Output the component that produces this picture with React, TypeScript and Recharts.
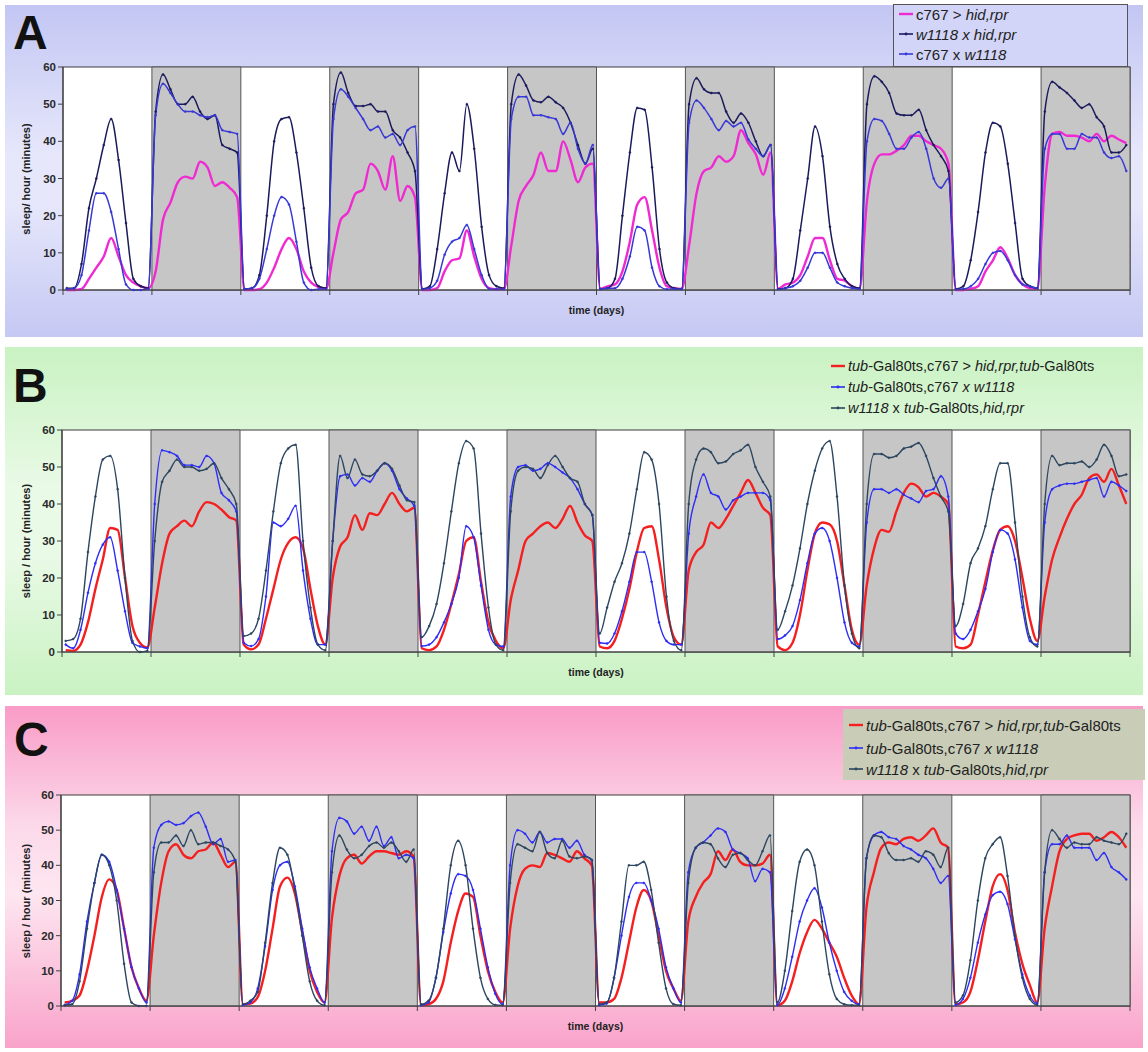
import React from 'react';
import { LineChart, Line, XAxis, YAxis, ReferenceArea } from 'recharts';

const FONT = '"Liberation Sans", Arial, Helvetica, sans-serif';

// 6 days, each split into a 12 h light phase and a 12 h dark phase
const phaseTicks = [0, 12, 24, 36, 48, 60, 72, 84, 96, 108, 120, 132, 144];
const darkPhases = [[12, 24], [36, 48], [60, 72], [84, 96], [108, 120], [132, 144]];
const sleepTicks = [0, 10, 20, 30, 40, 50, 60];

// ---- A: sleep per hour, one row of 12 hourly values per phase ----
const aC767HidRpr = [
  [0, 0, 0.3, 3, 6, 9, 14, 9, 4, 2, 1, 0.5],
  [5, 19, 23.5, 29, 30.5, 30, 34.5, 33, 28, 29, 27.5, 25],
  [0, 0, 0.2, 2, 6, 11, 14, 11, 5, 2, 0.8, 0.4],
  [10, 19, 21, 26, 27, 34, 32, 27, 36, 24, 28, 25],
  [0, 0, 0.5, 5, 8, 8.5, 16, 9, 3, 0.5, 0.2, 0.2],
  [12, 24, 28, 31, 37, 32, 32, 40, 35, 29, 33, 34],
  [0.3, 1, 1.5, 5, 13, 23, 25, 16, 6, 1, 0.5, 0.3],
  [12, 26, 32, 33, 36, 34.5, 36, 43, 39.5, 36.5, 31, 37],
  [0.3, 1.5, 2, 4, 9, 14, 14, 8, 3, 2.5, 1, 0.3],
  [24, 34, 36.5, 36.5, 37.5, 39, 41.5, 41.5, 40, 39, 38, 34],
  [0, 0, 0.3, 1, 5, 8, 11.5, 8.5, 4, 1.5, 0.5, 0.3],
  [28, 42, 42.5, 41.5, 41.5, 41, 40, 42, 40, 41.5, 40.5, 39.5],
];
const aW1118HidRpr = [
  [0.5, 0.5, 7, 22, 30, 39, 46, 35, 18, 3, 1, 0.5],
  [48, 58, 54, 50, 50, 52, 48, 46, 47, 39, 38, 37],
  [0.3, 0.5, 4, 20, 40, 46, 46.5, 37, 22, 6, 1, 0.5],
  [50, 58.5, 53, 49.5, 49.5, 50, 48, 48, 43, 41, 37, 32],
  [0.3, 1, 11, 26, 37, 32, 50, 38, 17, 4, 1, 0.5],
  [50, 58, 55, 51, 50.5, 52, 50.5, 49, 45, 39, 34, 38],
  [0.3, 0.5, 3, 20, 37, 49, 48.5, 33, 11, 2, 0.5, 0.3],
  [50, 57, 54, 53, 53, 48, 45, 47.5, 45, 40, 36, 39],
  [0.3, 0.5, 3, 16, 30, 44, 36, 17, 7, 3, 1, 0.5],
  [50, 57.5, 56, 53, 47.5, 47, 47, 48.5, 43, 39, 36, 32],
  [0.3, 1, 8, 21, 37, 45, 44, 34, 18, 3, 1, 0.5],
  [48, 56, 54.5, 53, 51, 49, 50, 46.5, 44, 37, 37, 39],
];
const aC767W1118 = [
  [0.3, 0.5, 4, 16, 26, 26, 21, 11, 1.5, 0, 0, 0.3],
  [47, 55.5, 53, 50, 48, 48, 47, 46.5, 47, 43, 42.5, 42],
  [0.3, 0.5, 3, 11, 20, 25, 23, 13, 2, 0, 0.2, 0.3],
  [46, 54, 52, 49, 46, 43, 44, 41, 42, 39, 43, 44],
  [0.2, 0.5, 2.5, 9.5, 13, 14, 17.5, 11, 4, 0.3, 0.2, 0.3],
  [46, 52, 52, 47, 47, 46.5, 46, 42, 45, 38, 34, 39],
  [0.3, 0.5, 0.5, 3, 9, 17, 16, 6, 1, 0.2, 0.3, 0.3],
  [45, 51, 49, 46, 43, 45.5, 44, 45, 40.5, 38, 36, 39],
  [0.2, 0.5, 1, 2.5, 6, 10, 10, 6, 2, 1, 0.5, 0.3],
  [40, 46, 45.5, 42, 38, 38, 41, 42.5, 38, 30, 27.5, 30],
  [0.2, 0.3, 1, 3, 7, 10, 10.5, 8, 4, 1.5, 1, 0.5],
  [38, 42, 42, 38, 38, 42, 41, 41, 37, 35.5, 36, 32],
];

// ---- B ----
const bTubHidRpr = [
  [0.5, 0.3, 2, 8, 17, 25, 33.5, 33, 20, 7, 2.5, 1.2],
  [12, 24, 32, 34, 35.5, 34, 38, 40.5, 40, 38.5, 36.5, 35.5],
  [2, 0.7, 2, 9, 17, 25, 29.5, 31, 28, 17, 7, 2],
  [20, 28.5, 31, 37, 33, 37.5, 37, 40, 43, 40, 38, 39],
  [1, 0.5, 1.5, 6, 13, 21, 30, 31, 19, 8, 3, 1],
  [14, 22, 30, 32, 34, 35, 33.5, 36, 39.5, 35, 31.5, 30],
  [1.5, 1, 3, 9, 17, 27, 33.5, 34, 25, 12, 4, 2],
  [22, 27, 29, 35, 33.5, 36, 39.5, 43, 46.5, 43, 39, 37],
  [1.5, 0.5, 2.5, 10, 22, 32, 35, 34.5, 30, 18, 6, 2],
  [18, 28, 33, 32.5, 38, 43, 45.5, 44.5, 42, 43, 42, 40],
  [1.5, 1, 2, 10, 19, 27.5, 33, 34, 30, 20, 9, 3],
  [15, 25, 31, 36, 40, 42.5, 47, 48, 46, 49.5, 45, 40],
];
const bTubC767W1118 = [
  [2, 1, 6, 16, 24, 29, 31, 22, 11, 2.5, 1.5, 1],
  [40, 54.5, 54, 53, 50.5, 50.5, 50, 53, 51, 43, 41, 38],
  [2.5, 1.6, 3.5, 15, 35, 34, 36, 39.5, 22, 9, 2, 2],
  [30, 47.5, 48, 45, 47, 46, 49, 51, 49, 44, 41.5, 39.5],
  [1.6, 2, 4, 8, 13, 20, 34, 31, 18, 6, 2, 1.5],
  [42, 50, 50.5, 49, 49.5, 51, 50, 48.5, 47, 44, 40, 37],
  [2.5, 2.3, 5, 11, 19, 27, 27, 19, 8, 3, 2, 2],
  [32, 42, 48, 43, 42, 38.5, 41, 42, 43, 43, 43, 41],
  [3.5, 4.5, 7, 14, 24, 32, 33.5, 30, 20, 8, 2.5, 1.5],
  [35, 44, 44, 43, 44, 42.5, 41.5, 40.5, 43.5, 44, 47.5, 42],
  [5, 3.5, 6, 11, 17, 27, 33, 32, 25, 12, 3, 2],
  [35, 44, 45, 45.5, 45.5, 46, 46.5, 47, 42, 46, 45, 43.5],
];
const bW1118TubHidRpr = [
  [3, 3.5, 9, 27, 42, 52, 53, 44, 20, 3, 0, 0.3],
  [30, 46, 49, 52, 50, 50, 49, 49.5, 51, 47, 44, 40],
  [4.3, 5, 9, 22, 38, 51, 55, 56, 30, 12, 2, 0.5],
  [30, 53, 47, 52, 48, 47.5, 49, 51, 49.5, 45, 41, 40.5],
  [4, 7, 13, 24, 38, 51, 57, 55, 32, 12, 2, 0.5],
  [38, 49, 50, 49.5, 47, 50.5, 53, 50, 47, 46, 40, 37],
  [5, 12, 19, 24, 32, 44, 54, 52, 40, 15, 3, 0.5],
  [40, 52, 55, 54, 51, 51.5, 53.5, 54.5, 56, 50, 46, 42],
  [6, 11, 18, 28, 40, 49, 55, 57, 42, 18, 5, 1],
  [40, 53.5, 53.5, 52.5, 53, 55, 55.5, 56.5, 53, 47, 42, 38],
  [7, 13, 24, 28, 34, 44, 51, 51, 35, 15, 4, 1.5],
  [40, 53, 50.5, 51, 51, 51.5, 50, 52, 56, 53, 47.5, 48],
];

// ---- C ----
const cTubHidRpr = [
  [1, 1.5, 3, 10, 20, 31, 36, 33, 22, 11, 5, 1.5],
  [20, 35, 44, 46, 43, 42, 44, 44.5, 46.5, 43, 39.5, 41],
  [0.5, 0.7, 2.5, 10, 22, 34, 36.5, 32, 21, 10, 4, 1],
  [25, 37, 42, 43, 40.5, 42.5, 44, 44, 43.5, 43, 44, 42.5],
  [0.2, 0.5, 2, 7, 18, 27, 32, 31, 20, 10, 4, 1],
  [22, 34, 39, 40, 39.5, 43.5, 43, 42, 41, 44, 42, 40],
  [1, 1, 2, 8, 18, 28, 33, 30, 20, 10, 5, 1.5],
  [24, 31, 35, 37.5, 44, 41.5, 44.5, 41, 40, 40, 40.5, 43],
  [0.2, 1.5, 7, 15, 21, 24.5, 22, 18, 14, 8, 3, 0.5],
  [28, 38, 45, 46.5, 46, 47.5, 48, 47, 48.5, 50.5, 46.5, 45],
  [0.5, 1, 4, 13, 24, 34, 37.5, 33, 21, 12, 6, 1],
  [22, 34, 44, 47.5, 48.5, 49, 49, 47, 48, 49.5, 48, 45],
];
const cTubC767W1118 = [
  [0.3, 1.5, 9, 24, 35, 43, 41, 33, 22, 11, 5, 1],
  [45, 51.5, 52.5, 51.5, 52, 54, 55, 51, 46, 47.5, 41, 41.5],
  [0.3, 1, 5, 17, 33, 40, 41, 34, 22, 11, 5, 1],
  [44, 53.5, 52.5, 49, 51, 47, 51, 45.5, 48, 42, 43, 42],
  [0.2, 1, 8, 21, 32, 37.5, 37, 33, 22, 11, 3.5, 0.5],
  [40, 50, 49, 46.5, 49.5, 46.5, 47.5, 47.5, 45, 47, 43, 41.5],
  [0.3, 0.7, 8, 20, 31, 35, 35, 30, 22, 11, 5, 1],
  [38, 45, 46.5, 48.5, 50.5, 49.5, 44.5, 43.5, 42, 35.5, 39, 38],
  [0.3, 5, 14, 24, 30, 33.5, 28, 18, 10, 4, 1.5, 0.5],
  [42, 48.5, 49.5, 48, 47.5, 45.5, 44.5, 43, 42, 39, 35, 37],
  [0.3, 2, 8, 18, 26, 31.5, 32.5, 29, 19, 9, 3, 0.7],
  [38, 46, 46, 48.5, 45, 45, 45, 41.5, 43.5, 39.5, 38, 36],
];
const cW1118TubHidRpr = [
  [0.2, 0.5, 7, 22, 35, 43, 40, 30, 12, 1, 0, 0],
  [38, 46.5, 46.5, 48.5, 45.5, 50, 46, 46.5, 46.5, 45.5, 44.5, 41],
  [0.5, 1.5, 4, 18, 35, 45, 43, 33, 20, 7, 1.5, 0.2],
  [38, 48.5, 44.5, 42, 43, 45.5, 46.5, 45, 46.5, 44, 41, 44.5],
  [0.5, 1.5, 8, 22, 40, 47, 40, 22, 8, 2, 0.3, 0.2],
  [35, 46, 45, 44, 49.5, 43.5, 42, 47, 42.5, 42, 42.5, 41.5],
  [0.5, 1, 8, 24, 40, 40, 41, 33, 18, 5, 0.5, 0.2],
  [35, 45, 46.5, 46, 42, 39.5, 43, 43.5, 41.5, 40, 44, 48.5],
  [1, 10, 27, 41, 44.5, 40, 24, 9, 2, 0.5, 0.2, 0.2],
  [42, 48.5, 48, 43.5, 41.5, 41.5, 42, 41, 44, 43, 39.5, 45],
  [1, 3, 13, 30, 42, 46, 48, 37, 20, 8, 2, 0.3],
  [38, 50, 47.5, 45, 46.5, 46, 46, 48, 47, 46.5, 46, 49],
];

type Part = [string, boolean];
type SeriesDef = { key: string; values: number[][]; color: string; width: number; dots: boolean; label: Part[] };

// flatten the per-phase rows into one row per hour (value sits mid-hour)
function buildRows(series: SeriesDef[]) {
  const rows: Record<string, number>[] = [];
  series[0].values.forEach((phase, p) => {
    phase.forEach((_, h) => {
      const row: Record<string, number> = { t: p * 12 + h + 0.5 };
      series.forEach((s) => { row[s.key] = s.values[p][h]; });
      rows.push(row);
    });
  });
  return rows;
}

const MAGENTA = '#f02ad2';
const NAVY = '#1b1b5c';
const BLUE_A = '#3838d6';
const RED = '#f51f1f';
const BLUE = '#2d2df5';
const SLATE = '#2c4660';

const seriesA: SeriesDef[] = [
  { key: 'c767HidRpr', values: aC767HidRpr, color: MAGENTA, width: 2.4, dots: false, label: [['c767 > ', false], ['hid,rpr', true]] },
  { key: 'w1118HidRpr', values: aW1118HidRpr, color: NAVY, width: 1.5, dots: true, label: [['w1118 x hid,rpr', true]] },
  { key: 'c767W1118', values: aC767W1118, color: BLUE_A, width: 1.5, dots: true, label: [['c767 x ', false], ['w1118', true]] },
];

const tubLabels: Part[][] = [
  [['tub', true], ['-Gal80ts,c767 > ', false], ['hid,rpr,tub', true], ['-Gal80ts', false]],
  [['tub', true], ['-Gal80ts,c767 ', false], ['x w1118', true]],
  [['w1118', true], [' x ', false], ['tub', true], ['-Gal80ts,', false], ['hid,rpr', true]],
];

const seriesB: SeriesDef[] = [
  { key: 'tubHidRpr', values: bTubHidRpr, color: RED, width: 2.4, dots: false, label: tubLabels[0] },
  { key: 'tubC767W1118', values: bTubC767W1118, color: BLUE, width: 1.4, dots: true, label: tubLabels[1] },
  { key: 'w1118TubHidRpr', values: bW1118TubHidRpr, color: SLATE, width: 1.4, dots: true, label: tubLabels[2] },
];

const seriesC: SeriesDef[] = [
  { key: 'tubHidRpr', values: cTubHidRpr, color: RED, width: 2.4, dots: false, label: tubLabels[0] },
  { key: 'tubC767W1118', values: cTubC767W1118, color: BLUE, width: 1.4, dots: true, label: tubLabels[1] },
  { key: 'w1118TubHidRpr', values: cW1118TubHidRpr, color: SLATE, width: 1.4, dots: true, label: tubLabels[2] },
];

type Box = { x: number; y: number; w: number; h: number };
type Plot = { x0: number; x1: number; y0: number; y1: number };
type LegendCfg = { x: number; y: number; w: number; h: number; bg?: string; border?: string; rowY: number[]; markX: number; fontSize: number };

function LegendMark({ s }: { s: SeriesDef }) {
  return (
    <svg width={14} height={8} style={{ display: 'block', flex: 'none' }}>
      <line x1={0} y1={4} x2={14} y2={4} stroke={s.color} strokeWidth={s.dots ? 1.6 : 2.4} />
      {s.dots && <circle cx={7} cy={4} r={1.4} fill={s.color} />}
    </svg>
  );
}

function Legend({ cfg, series }: { cfg: LegendCfg; series: SeriesDef[] }) {
  return (
    <>
      {(cfg.bg || cfg.border) && (
        <div style={{ position: 'absolute', left: cfg.x, top: cfg.y, width: cfg.w, height: cfg.h, background: cfg.bg, border: cfg.border, boxSizing: 'border-box' }} />
      )}
      {series.map((s, i) => (
        <div key={s.key} style={{ position: 'absolute', left: cfg.markX, top: cfg.rowY[i] - 10, height: 20, display: 'flex', alignItems: 'center', gap: 3, whiteSpace: 'nowrap', fontFamily: FONT, fontSize: cfg.fontSize, color: '#222' }}>
          <LegendMark s={s} />
          <span>
            {s.label.map(([txt, it], j) => (
              <span key={j} style={{ fontStyle: it ? 'italic' : 'normal' }}>{txt}</span>
            ))}
          </span>
        </div>
      ))}
    </>
  );
}

function Panel({ letter, box, plot, bg, series, yTitle, legend, letterPos }: {
  letter: string; box: Box; plot: Plot; bg: string; series: SeriesDef[]; yTitle: string; legend: LegendCfg; letterPos: [number, number];
}) {
  const rows = buildRows(series);
  const xAxisH = 20;
  const yAxisW = plot.x0 - box.x;
  const margin = {
    top: plot.y0 - box.y,
    right: box.x + box.w - plot.x1,
    left: 0,
    bottom: box.y + box.h - plot.y1 - xAxisH,
  };
  return (
    <>
      <div style={{ position: 'absolute', left: box.x, top: box.y, width: box.w, height: box.h, background: bg }}>
        <LineChart width={box.w} height={box.h} data={rows} margin={margin}>
          <XAxis dataKey="t" type="number" domain={[0, 144]} ticks={phaseTicks} height={xAxisH}
            tickFormatter={() => ''} axisLine={{ stroke: '#444' }} tickLine={{ stroke: '#444' }} tickSize={5} allowDataOverflow />
          <YAxis type="number" domain={[0, 60]} ticks={sleepTicks} width={yAxisW} interval={0}
            axisLine={{ stroke: '#444' }} tickLine={{ stroke: '#444' }} tickSize={5}
            tick={{ fontFamily: FONT, fontSize: 11.5, fontWeight: 700, fill: '#2a2a2a' }} />
          <ReferenceArea x1={0} x2={144} y1={0} y2={60} fill="#ffffff" fillOpacity={1} stroke="#3c3c3c" strokeWidth={1.2} />
          {darkPhases.map(([a, b]) => (
            <ReferenceArea key={a} x1={a} x2={b} y1={0} y2={60} fill="#c6c6c6" fillOpacity={1} stroke="#555" strokeWidth={1} />
          ))}
          {series.map((s) => (
            <Line key={s.key} dataKey={s.key} type="monotone" stroke={s.color} strokeWidth={s.width}
              dot={s.dots ? { r: 1, fill: s.color, stroke: s.color, strokeWidth: 0.5 } : false}
              activeDot={false} isAnimationActive={false} />
          ))}
        </LineChart>
      </div>
      <div style={{ position: 'absolute', left: letterPos[0], top: letterPos[1], fontFamily: FONT, fontWeight: 700, fontSize: 48, lineHeight: 1, color: '#111' }}>{letter}</div>
      <div style={{ position: 'absolute', left: 26, top: (plot.y0 + plot.y1) / 2, transform: 'translate(-50%, -50%) rotate(-90deg)', whiteSpace: 'nowrap', fontFamily: FONT, fontWeight: 700, fontSize: 11, color: '#222' }}>{yTitle}</div>
      <div style={{ position: 'absolute', left: (plot.x0 + plot.x1) / 2, top: plot.y1 + 20, transform: 'translate(-50%, -50%)', whiteSpace: 'nowrap', fontFamily: FONT, fontWeight: 700, fontSize: 10.5, color: '#222' }}>time (days)</div>
      <Legend cfg={legend} series={series} />
    </>
  );
}

export default function App() {
  return (
    <div style={{ position: 'absolute', left: 0, top: 0, width: 1148, height: 1052, background: '#ffffff', overflow: 'hidden' }}>
      <Panel letter="A" letterPos={[13, 9]}
        box={{ x: 5, y: 5, w: 1138, h: 332 }} plot={{ x0: 63, x1: 1130, y0: 67, y1: 290 }}
        bg="linear-gradient(to bottom, #c3c6f3 0%, #e6e7fb 45%, #e6e7fb 60%, #c5c8f3 100%)"
        series={seriesA} yTitle="sleep/ hour (minutes)"
        legend={{ x: 893, y: 4, w: 235, h: 63, bg: '#d2d5f7', border: '1px solid #555', rowY: [14, 34, 54], markX: 899, fontSize: 15 }} />
      <Panel letter="B" letterPos={[13, 362]}
        box={{ x: 5, y: 347, w: 1138, h: 348 }} plot={{ x0: 62, x1: 1130, y0: 430, y1: 652 }}
        bg="linear-gradient(to bottom, #c9f2c2 0%, #e9fae6 40%, #e9fae6 60%, #c9f2c2 100%)"
        series={seriesB} yTitle="sleep / hour (minutes)"
        legend={{ x: 0, y: 0, w: 0, h: 0, rowY: [366, 387, 408], markX: 831, fontSize: 14.5 }} />
      <Panel letter="C" letterPos={[14, 716]}
        box={{ x: 5, y: 706, w: 1138, h: 342 }} plot={{ x0: 61, x1: 1130, y0: 795, y1: 1006 }}
        bg="linear-gradient(to bottom, #f99bc6 0%, #fcd9ea 35%, #fde6f0 55%, #f9a3ca 100%)"
        series={seriesC} yTitle="sleep / hour (minutes)"
        legend={{ x: 843, y: 709, w: 302, h: 71, bg: '#c9cdb8', rowY: [725, 748, 769], markX: 849, fontSize: 15 }} />
    </div>
  );
}
